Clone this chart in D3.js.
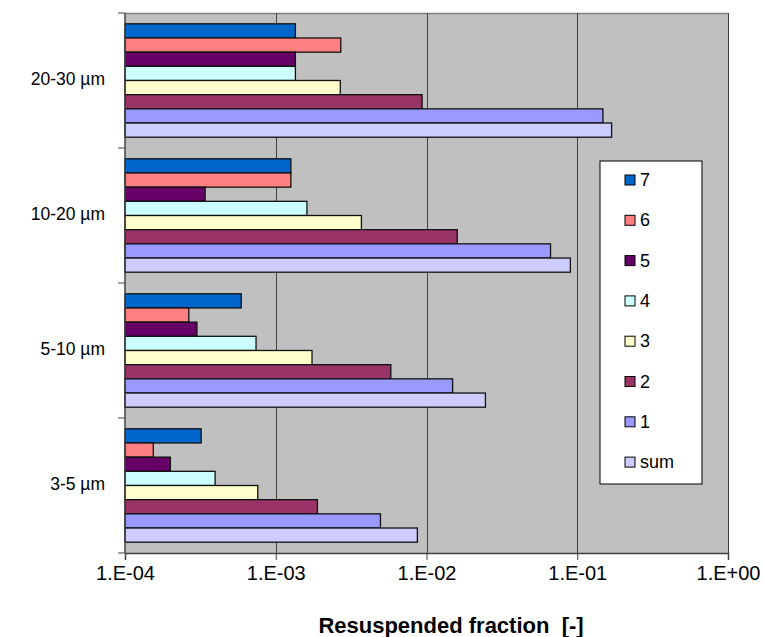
<!DOCTYPE html>
<html><head>
<meta charset="utf-8">
<script src="https://d3js.org/d3.v7.min.js"></script>
<style>
  body { margin: 0; background: #fff; }
  svg text { font-family: "Liberation Sans", Arial, sans-serif; fill: #000; }
</style>
</head>
<body>
<svg id="chart" width="764" height="637"></svg>
<script>
// size classes, bottom to top as drawn
const categories = ["3-5 µm", "5-10 µm", "10-20 µm", "20-30 µm"];
// series, top bar to bottom bar inside each group
const seriesNames = ["7", "6", "5", "4", "3", "2", "1", "sum"];
const seriesColors = ["#0066CC", "#FF8080", "#660066", "#CCFFFF", "#FFFFCC", "#993366", "#9999FF", "#CCCCFF"];

// resuspended fraction per series, same order as categories
const s7   = [3.2e-4, 5.9e-4, 1.26e-3, 1.35e-3];
const s6   = [1.54e-4, 2.65e-4, 1.26e-3, 2.7e-3];
const s5   = [2.0e-4, 3.0e-4, 3.4e-4, 1.35e-3];
const s4   = [3.96e-4, 7.4e-4, 1.61e-3, 1.35e-3];
const s3   = [7.6e-4, 1.74e-3, 3.7e-3, 2.68e-3];
const s2   = [1.89e-3, 5.8e-3, 1.6e-2, 9.35e-3];
const s1   = [4.95e-3, 1.49e-2, 6.65e-2, 0.148];
const sSum = [8.7e-3, 2.46e-2, 9.0e-2, 0.169];
const seriesValues = [s7, s6, s5, s4, s3, s2, s1, sSum];

const tickValues = [1e-4, 1e-3, 1e-2, 1e-1, 1];
const tickLabels = ["1.E-04", "1.E-03", "1.E-02", "1.E-01", "1.E+00"];

const svg = d3.select("#chart");
const margin = { top: 13, right: 36, bottom: 84, left: 125 };
const plotW = 764 - margin.left - margin.right;
const plotH = 637 - margin.top - margin.bottom;
const g = svg.append("g").attr("transform", "translate(" + margin.left + "," + margin.top + ")");

const x = d3.scaleLog().domain([1e-4, 1]).range([0, plotW]);
const y = d3.scaleBand().domain(categories.slice().reverse()).range([0, plotH])
  .paddingInner(0.16).paddingOuter(0.08);
const yInner = d3.scaleBand().domain(seriesNames).range([0, y.bandwidth()]);

// plot background
g.append("rect").attr("width", plotW).attr("height", plotH).attr("fill", "#C0C0C0");
g.append("line").attr("x1", 0).attr("x2", plotW).attr("y1", 0.5).attr("y2", 0.5)
  .attr("stroke", "#808080").attr("stroke-width", 1.5);

// vertical gridlines
g.selectAll("line.grid").data(tickValues.slice(1)).join("line")
  .attr("class", "grid")
  .attr("x1", d => Math.round(x(d)) + 0.5).attr("x2", d => Math.round(x(d)) + 0.5)
  .attr("y1", 0).attr("y2", plotH)
  .attr("stroke", "#404040").attr("stroke-width", 1);

// bars
const rows = [];
categories.forEach((c, i) => {
  seriesNames.forEach((s, j) => rows.push({ cat: c, key: s, color: seriesColors[j], value: seriesValues[j][i] }));
});
g.selectAll("rect.bar").data(rows).join("rect")
  .attr("class", "bar")
  .attr("x", 0)
  .attr("y", d => y(d.cat) + yInner(d.key))
  .attr("width", d => x(d.value))
  .attr("height", yInner.bandwidth())
  .attr("fill", d => d.color)
  .attr("stroke", "#111").attr("stroke-width", 1.3);

// x axis
const xAxis = g.append("g").attr("transform", "translate(0," + plotH + ")")
  .call(d3.axisBottom(x).tickValues(tickValues).tickFormat((d, i) => tickLabels[i]).tickSize(7).tickPadding(5));
xAxis.select(".domain").attr("stroke", "#404040").attr("stroke-width", 1.5);
xAxis.selectAll(".tick line").attr("stroke", "#404040");
xAxis.selectAll("text").style("font-size", "20px").attr("dy", "0.75em");

// y axis with ticks between groups
const bounds = d3.range(categories.length + 1).map(i => i * y.step());
g.append("line").attr("x1", 0).attr("x2", 0).attr("y1", 0).attr("y2", plotH)
  .attr("stroke", "#404040").attr("stroke-width", 1.5);
g.selectAll("line.ytick").data(bounds).join("line")
  .attr("class", "ytick")
  .attr("x1", -7).attr("x2", 0).attr("y1", d => d).attr("y2", d => d)
  .attr("stroke", "#404040");
g.selectAll("text.ylab").data(categories).join("text")
  .attr("class", "ylab")
  .attr("x", -20)
  .attr("y", d => y(d) + y.bandwidth() / 2 - 2)
  .attr("text-anchor", "end").attr("dominant-baseline", "central")
  .style("font-size", "17.5px")
  .text(d => d);

// axis title
svg.append("text").attr("x", 451).attr("y", 633)
  .attr("text-anchor", "middle")
  .style("font-size", "22px").style("font-weight", "bold")
  .attr("xml:space", "preserve")
  .text("Resuspended fraction  [-]");

// legend
const legend = svg.append("g").attr("transform", "translate(600,161)");
legend.append("rect").attr("width", 102).attr("height", 323)
  .attr("fill", "#fff").attr("stroke", "#000").attr("stroke-width", 1);
const items = legend.selectAll("g.item").data(seriesNames).join("g")
  .attr("class", "item")
  .attr("transform", (d, i) => "translate(25," + (19 + i * 40.3) + ")");
items.append("rect").attr("x", 0).attr("y", -5).attr("width", 10).attr("height", 10)
  .attr("fill", (d, i) => seriesColors[i]).attr("stroke", "#000").attr("stroke-width", 1);
items.append("text").attr("x", 15).attr("y", 0)
  .attr("dominant-baseline", "central")
  .style("font-size", "18px")
  .text(d => d);
</script>
</body>
</html>
